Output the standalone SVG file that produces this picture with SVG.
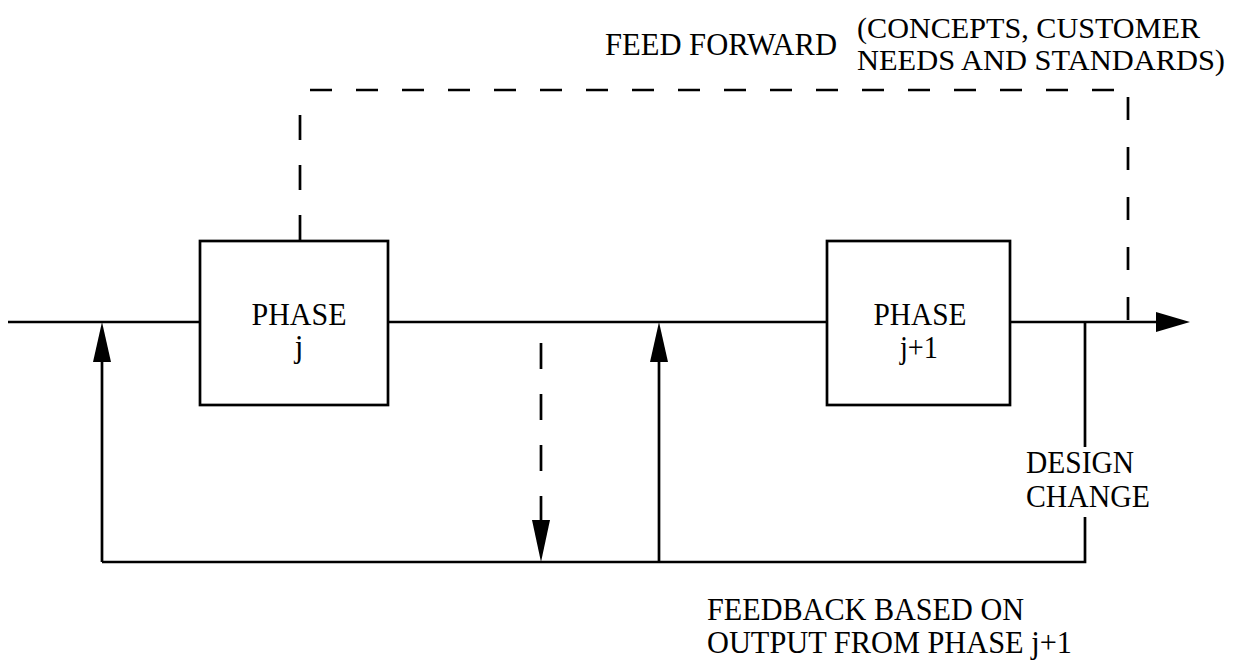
<svg xmlns="http://www.w3.org/2000/svg" width="1246" height="666" viewBox="0 0 1246 666">
<style>
.ln{fill:none;stroke:#000;stroke-width:2.7;stroke-linecap:butt}
.box{fill:#fff;stroke:#000;stroke-width:2.7}
.hd{fill:#000;stroke:none}
text{font-family:"Liberation Serif","Times New Roman",serif;font-size:31px;fill:#000}
.c{text-anchor:middle}
.s{font-size:29px}
</style>
<rect width="1246" height="666" fill="#fff"/>
<g id="connectors">
<path class="ln" d="M8 322 H200 M388 322 H827 M1010 322 H1158"/>
<polygon class="hd" points="1156,312 1190,322 1156,332"/>
<path class="ln" d="M102 562 V360 M102 562 H1085 V517 M1085 447 V322 M659 562 V360"/>
<polygon class="hd" points="102,322 93,362 111,362"/>
<polygon class="hd" points="659,322 650,362 668,362"/>
<path class="ln" d="M541 343 V522" stroke-dasharray="26 25"/>
<polygon class="hd" points="541,562 532,520 550,520"/>
<path class="ln" d="M300 240 V115" stroke-dasharray="25 25"/>
<path class="ln" d="M310 90 H1114" stroke-dasharray="22 24"/>
<path class="ln" d="M1128 97 V320" stroke-dasharray="23 27"/>
</g>
<g id="phase-j">
<rect class="box" x="200" y="241" width="188" height="164"/>
<text class="c"><tspan x="299" y="325" textLength="95" lengthAdjust="spacingAndGlyphs">PHASE</tspan><tspan x="299" y="357">j</tspan></text>
</g>
<g id="phase-j1">
<rect class="box" x="827" y="241" width="183" height="164"/>
<text class="c"><tspan x="920" y="325" textLength="93" lengthAdjust="spacingAndGlyphs">PHASE</tspan><tspan x="919" y="358" textLength="38" lengthAdjust="spacingAndGlyphs">j+1</tspan></text>
</g>
<g id="labels">
<text x="605" y="55" textLength="232" lengthAdjust="spacingAndGlyphs">FEED FORWARD</text>
<text class="s"><tspan x="857" y="38" textLength="343" lengthAdjust="spacingAndGlyphs">(CONCEPTS, CUSTOMER</tspan><tspan x="857" y="70" textLength="368" lengthAdjust="spacingAndGlyphs">NEEDS AND STANDARDS)</tspan></text>
<text><tspan x="1026" y="473" textLength="108" lengthAdjust="spacingAndGlyphs">DESIGN</tspan><tspan x="1026" y="507" textLength="124" lengthAdjust="spacingAndGlyphs">CHANGE</tspan></text>
<text><tspan x="707" y="620" textLength="317" lengthAdjust="spacingAndGlyphs">FEEDBACK BASED ON</tspan><tspan x="707" y="653" textLength="365" lengthAdjust="spacingAndGlyphs">OUTPUT FROM PHASE j+1</tspan></text>
</g>
</svg>
